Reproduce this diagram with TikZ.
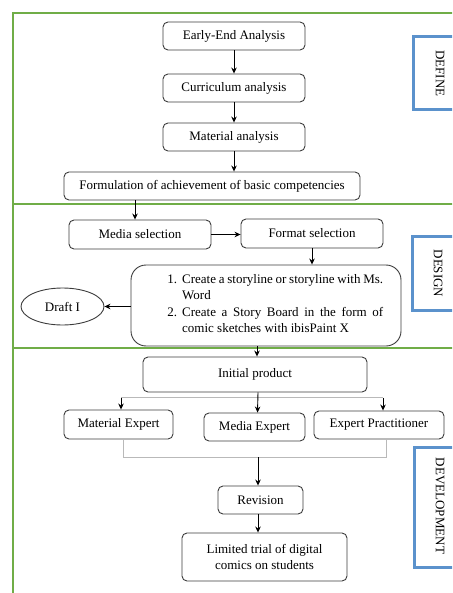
\documentclass[tikz,border=0pt]{standalone}
\usepackage{fontspec}
\setmainfont{Liberation Serif}
\usetikzlibrary{arrows.meta,shapes.geometric,calc}
\definecolor{frameg}{RGB}{112,173,71}
\definecolor{labelb}{RGB}{91,146,204}
\definecolor{boxline}{RGB}{60,60,60}
\definecolor{grayline}{RGB}{185,185,185}
\begin{document}
\begin{tikzpicture}[x=1pt,y=-1pt,
  stepbox/.style={draw=boxline,line width=0.9pt,rounded corners=5pt,fill=white,inner sep=0pt,
    font=\fontsize{13}{15.5}\selectfont,align=center},
  arr/.style={draw=black,line width=0.9pt,-{Stealth[length=6pt,width=5.5pt]}},
  lab/.style={font=\fontsize{13}{15}\selectfont,rotate=-90,inner sep=0pt},
  labbox/.style={draw=labelb,line width=3pt,fill=white}]
\useasboundingbox (0,0) rectangle (452,593);
\clip (0,0) rectangle (452,593);
% frame
\draw[frameg,line width=1.8pt] (13,600) -- (13,13) -- (470,13);
\draw[frameg,line width=1.8pt] (13,204) -- (470,204);
\draw[frameg,line width=1.8pt] (13,348) -- (470,348);
% labels
\draw[labbox] (413,37) rectangle (470,110);
\node[lab] (lDefine) at (440,73.5) {DEFINE};
\draw[labbox] (412,237) rectangle (470,310);
\node[lab] (lDesign) at (438,273.5) {DESIGN};
\draw[labbox] (414,447) rectangle (470,567);
\node[lab] (lDev) at (440,506) {DEVELOPMENT};
% DEFINE
\node[stepbox,minimum width=142pt,minimum height=28pt] (a1) at (234,36) {Early-End Analysis};
\node[stepbox,minimum width=142pt,minimum height=28pt] (a2) at (234,88) {Curriculum analysis};
\node[stepbox,minimum width=142pt,minimum height=28pt] (a3) at (234,137) {Material analysis};
\node[stepbox,minimum width=296pt,minimum height=28pt] (a4) at (212,186) {Formulation of achievement of basic competencies};
% DESIGN
\node[stepbox,minimum width=142pt,minimum height=29pt] (b1) at (140,234.5) {Media selection};
\node[stepbox,minimum width=142pt,minimum height=29pt] (b2) at (312,233.5) {Format selection};
\node[stepbox,rounded corners=15pt,minimum width=270pt,minimum height=81pt] (b3) at (266,305.5) {};
\node[font=\fontsize{13}{15}\selectfont,inner sep=0pt,anchor=west,align=left] (b3t) at (162,305)
 {\begin{tabular}{@{}p{20pt}@{}p{201pt}@{}}
  \hfil 1. & \makebox[201pt][s]{Create a storyline or storyline with Ms.}\\[1.6pt]
   & Word\\[1.6pt]
  \hfil 2. & \makebox[201pt][s]{Create a Story Board in the form of}\\[1.6pt]
   & comic sketches with ibisPaint X
  \end{tabular}};
\node[draw=boxline,line width=0.9pt,ellipse,minimum width=83pt,minimum height=37pt,inner sep=0pt,
  font=\fontsize{13}{15}\selectfont] (draft) at (62.5,306.5) {Draft I};
% DEVELOPMENT
\node[stepbox,minimum width=224pt,minimum height=35pt] (c1) at (255,374.5) {Initial product};
\node[stepbox,minimum width=109pt,minimum height=29pt] (c2) at (118.5,424.5) {Material Expert};
\node[stepbox,minimum width=101pt,minimum height=28pt] (c3) at (254.5,427) {Media Expert};
\node[stepbox,minimum width=130pt,minimum height=28pt] (c4) at (379,425) {Expert Practitioner};
\node[stepbox,minimum width=85pt,minimum height=28pt] (c5) at (260.5,500) {Revision};
\node[stepbox,minimum width=165pt,minimum height=48pt] (c6) at (264.5,557) {Limited trial of digital\\comics on students};
% connectors
\draw[arr] (a1) -- (a2);
\draw[arr] (a2) -- (a3);
\draw[arr] (a3.south) -- (a4.north -| a3.south);
\draw[arr] ([xshift=-5pt]b1.north |- a4.south) -- ([xshift=-5pt]b1.north);
\draw[arr] (b1) -- (b2.west |- b1);
\draw[arr] (b2.south) -- (b3.north -| b2.south);
\draw[arr] (b3.west |- draft) -- (draft.east);
\draw[arr] ([xshift=-9pt]b3.south) -- ([xshift=2pt]c1.north);
\coordinate (hbar) at ($(c1.south)+(0,5.5)$);
\draw[grayline,line width=1pt] ([xshift=2.5pt]c2.north |- hbar) -- ([xshift=4pt]c4.north |- hbar);
\draw[arr] ([xshift=2.5pt]c2.north |- hbar) -- ([xshift=2.5pt]c2.north);
\draw[arr] ([xshift=4pt]c4.north |- hbar) -- ([xshift=4pt]c4.north);
\draw[arr] ([xshift=3pt]c1.south) -- ([xshift=3pt]c3.north);
\coordinate (bbar) at ($(c3.south)+(0,16)$);
\draw[grayline,line width=1pt] ([xshift=4.5pt]c2.south) |- (bbar) -| ([xshift=7pt]c4.south);
\draw[arr] ([xshift=-2.5pt]c5.north |- bbar) -- ([xshift=-2.5pt]c5.north);
\draw[arr] ([xshift=-2.5pt]c5.south) -- ([xshift=-2.5pt]c5.south |- c6.north);
\end{tikzpicture}
\end{document}
